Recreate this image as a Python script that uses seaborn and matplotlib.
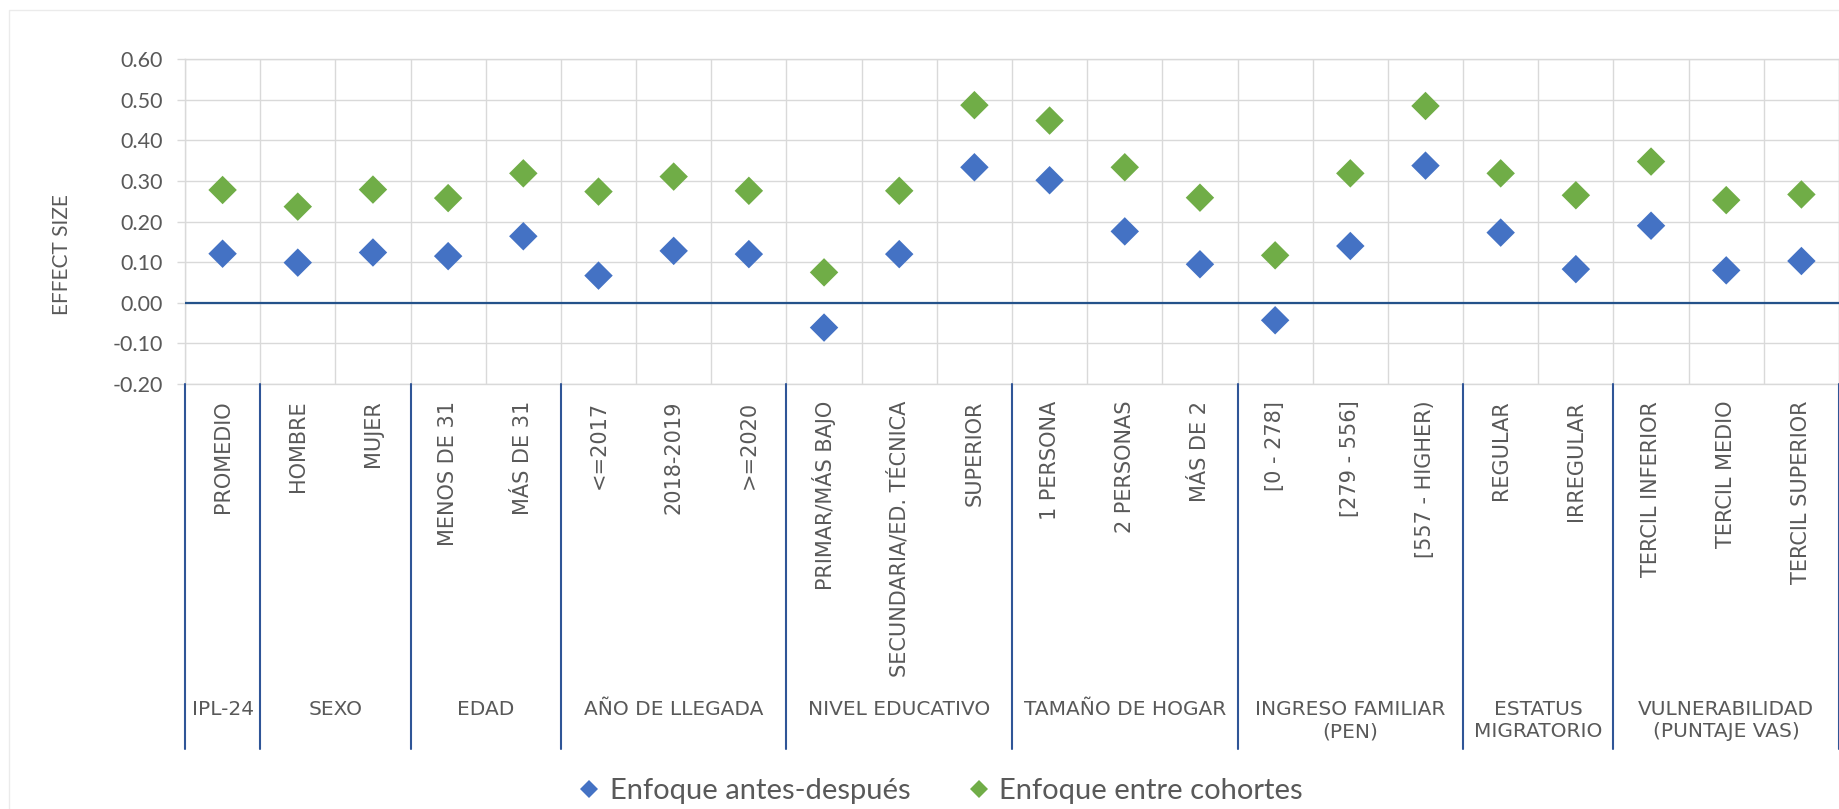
import matplotlib
matplotlib.use("Agg")
import matplotlib.pyplot as plt
import seaborn as sns
import pandas as pd
import numpy as np
from matplotlib.ticker import FormatStrFormatter, FixedLocator
from matplotlib.patches import Rectangle

# ---------------- data ----------------
categories = ["PROMEDIO", "HOMBRE", "MUJER", "MENOS DE 31", "MÁS DE 31",
              "<=2017", "2018-2019", ">=2020", "PRIMAR/MÁS BAJO",
              "SECUNDARIA/ED. TÉCNICA", "SUPERIOR", "1 PERSONA", "2 PERSONAS",
              "MÁS DE 2", "[0 - 278]", "[279 - 556]", "[557 - HIGHER)",
              "REGULAR", "IRREGULAR", "TERCIL INFERIOR", "TERCIL MEDIO",
              "TERCIL SUPERIOR"]
antes_despues = [0.121, 0.099, 0.124, 0.115, 0.164, 0.067, 0.128, 0.120,
                 -0.061, 0.120, 0.334, 0.302, 0.176, 0.095, -0.043, 0.140,
                 0.338, 0.173, 0.083, 0.190, 0.080, 0.103]
entre_cohortes = [0.278, 0.237, 0.279, 0.258, 0.319, 0.274, 0.311, 0.276,
                  0.075, 0.276, 0.487, 0.449, 0.334, 0.259, 0.117, 0.319,
                  0.485, 0.319, 0.265, 0.348, 0.253, 0.267]
groups = ["IPL-24", "SEXO", "EDAD", "AÑO DE LLEGADA", "NIVEL EDUCATIVO",
          "TAMAÑO DE HOGAR", "INGRESO FAMILIAR\n(PEN)", "ESTATUS\nMIGRATORIO",
          "VULNERABILIDAD\n(PUNTAJE VAS)"]
group_sizes = [1, 2, 2, 3, 3, 3, 3, 2, 3]
series_names = ["Enfoque antes-después", "Enfoque entre cohortes"]
y_ticks = [-0.20, -0.10, 0.00, 0.10, 0.20, 0.30, 0.40, 0.50, 0.60]
y_label = "EFFECT SIZE"

df = pd.DataFrame({
    "categoria": categories * 2,
    "valor": antes_despues + entre_cohortes,
    "serie": [series_names[0]] * len(categories) + [series_names[1]] * len(categories),
})

# ---------------- style ----------------
sns.set_style("white")
plt.rcParams["axes.unicode_minus"] = False
plt.rcParams["font.family"] = ["DejaVu Sans"]

W, H = 1840, 809
fig = plt.figure(figsize=(W / 100, H / 100), dpi=100)

ax_left, ax_right = 185, 1839
ax_top, ax_bot = 59.3, 384
ax = fig.add_axes([ax_left / W, 1 - ax_bot / H, (ax_right - ax_left) / W, (ax_bot - ax_top) / H])

def px_to_axy(py):
    return (ax_bot - py) / (ax_bot - ax_top)

text_grey = "#595959"
grid_grey = "#D9D9D9"
blue = "#4472C4"
green = "#70AD47"
navy = "#24528A"

sns.scatterplot(data=df, x="categoria", y="valor", hue="serie",
                palette=[blue, green], marker="D", s=210, linewidth=0,
                ax=ax, zorder=4)

ax.set_xlim(-0.5, len(categories) - 0.5)
ax.set_ylim(y_ticks[0], y_ticks[-1])
ax.set_axisbelow(True)

# y axis
ax.yaxis.set_major_locator(FixedLocator(y_ticks))
ax.yaxis.set_major_formatter(FormatStrFormatter("%.2f"))
ax.tick_params(axis="y", which="major", length=6, width=1, color=grid_grey,
               pad=10, labelsize=15.5, labelcolor=text_grey, left=True)
for lab in ax.get_yticklabels():
    lab.set_fontfamily(["Lato", "DejaVu Sans"])
ax.set_ylabel("")
ax.set_xlabel("")

# x axis
ax.set_xticks(range(len(categories)))
ax.set_xticklabels(categories, rotation=90, fontsize=15, color=text_grey)
ax.set_xticks(np.arange(-0.5, len(categories), 1.0), minor=True)
ax.tick_params(axis="x", which="both", length=0, pad=12)

ax.grid(False)
ax.grid(which="major", axis="y", color=grid_grey, lw=1.0)
ax.grid(which="minor", axis="x", color=grid_grey, lw=1.0)
for sp in ax.spines.values():
    sp.set_color(grid_grey)
    sp.set_linewidth(1.0)

ax.axhline(0, color=navy, lw=1.6, zorder=3)

# group dividers and labels
xt = ax.get_xaxis_transform()
bounds = np.concatenate([[0], np.cumsum(group_sizes)])
y_div_bottom = px_to_axy(749)
for b in bounds:
    ax.plot([b - 0.5, b - 0.5], [0, y_div_bottom], transform=xt, clip_on=False,
            color="#2F5597", lw=1.5, zorder=5)
for g, start, size in zip(groups, bounds[:-1], group_sizes):
    cx = start + size / 2 - 0.5
    ax.text(cx, px_to_axy(700), g, transform=xt, ha="center", va="top",
            fontsize=14.5, color=text_grey, linespacing=1.2)

# y label
fig.text(62 / W, 1 - 255 / H, y_label, rotation=90, ha="center", va="center",
         fontsize=15, color=text_grey, family=["Lato", "DejaVu Sans"])

# legend
handles, labels = ax.get_legend_handles_labels()
ax.legend_.remove()
fig.legend(handles, labels, loc="center", bbox_to_anchor=(941 / W, 1 - 791 / H),
           ncol=2, frameon=False, prop={"family": ["Lato", "DejaVu Sans"], "size": 21},
           handlelength=0.7, handletextpad=0.35, columnspacing=2.0,
           markerscale=0.63, labelcolor=text_grey, borderpad=0, borderaxespad=0)

# faint outer chart border
fig.patches.append(Rectangle((9 / W, -0.1), 2, 1 - 10 / H + 0.1,
                             transform=fig.transFigure, fill=False,
                             edgecolor="#EBEBEB", lw=1))

fig.savefig("out.png", dpi=100)
